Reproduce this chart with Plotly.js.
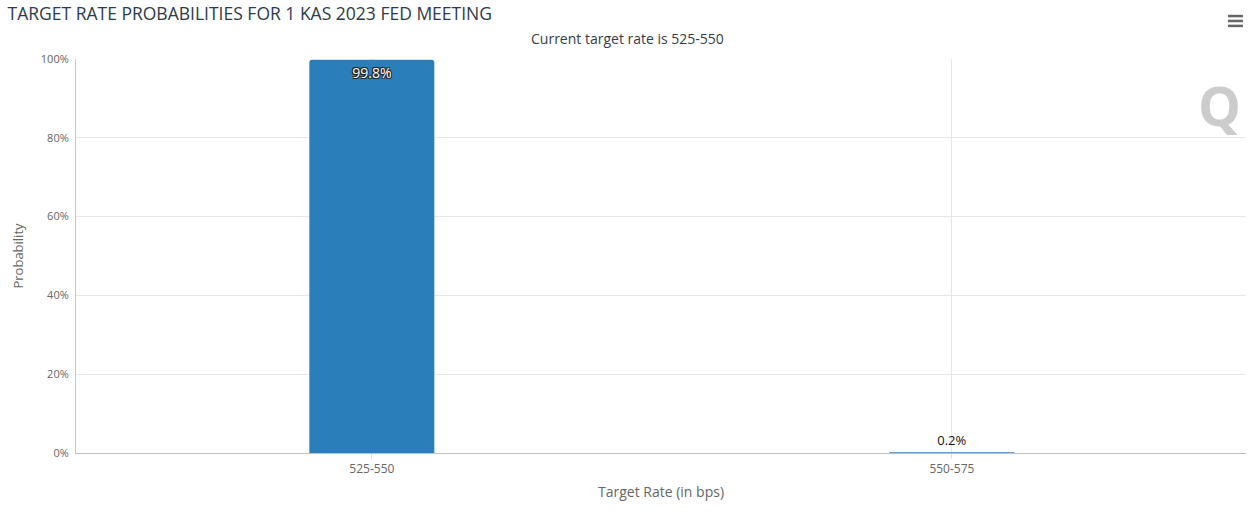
<!DOCTYPE html>
<html>
<head>
<meta charset="utf-8">
<script src="https://cdn.plot.ly/plotly-3.0.1.min.js"></script>
<style>html,body{margin:0;padding:0;background:#fff}#chart{width:1255px;height:512px}</style>
</head>
<body>
<div id="chart"></div>
<script>
const categories = ['525-550', '550-575'];
const probabilities = [99.8, 0.2];
const labels = ['99.8%', '0.2%'];
const yTicks = [0, 20, 40, 60, 80, 100];

const trace = {
  type: 'bar',
  x: categories,
  y: probabilities,
  text: labels,
  textposition: ['inside', 'outside'],
  insidetextanchor: 'end',
  texttemplate: '%{text}',
  cliponaxis: false,
  constraintext: 'none',
  insidetextfont: {family: 'Open Sans, sans-serif', size: 14, color: '#ffffff',
    shadow: '1px 1px 0 #222, -1px -1px 0 #222, 1px -1px 0 #222, -1px 1px 0 #222'},
  outsidetextfont: {family: 'Open Sans, sans-serif', size: 13, color: '#111111'},
  marker: {color: '#2a7fba', cornerradius: 3, line: {width: 0}},
  width: 0.2155,
  hoverinfo: 'x+y'
};

const layout = {
  width: 1255, height: 512,
  margin: {l: 76, r: 9, t: 59, b: 59},
  paper_bgcolor: '#ffffff', plot_bgcolor: '#ffffff',
  font: {family: 'Open Sans, sans-serif', color: '#666666', size: 11},
  showlegend: false,
  title: {text: 'TARGET RATE PROBABILITIES FOR 1 KAS 2023 FED MEETING',
    x: 0.006, xanchor: 'left', y: 0.972, yanchor: 'middle',
    font: {family: 'Open Sans, sans-serif', size: 17.5, color: '#2e3a4c'}},
  xaxis: {
    type: 'category',
    range: [-0.510, 1.507],
    showgrid: true, gridcolor: '#e6e6e6', gridwidth: 1,
    showline: true, linecolor: '#c0c0c0', linewidth: 1,
    ticks: 'outside', ticklen: 5, tickcolor: '#e0e0e0',
    tickfont: {size: 12, color: '#666666'},
    title: {text: 'Target Rate (in bps)', standoff: 10, font: {size: 14, color: '#666666'}},
    fixedrange: true
  },
  yaxis: {
    range: [0, 100],
    tickvals: yTicks,
    ticktext: yTicks.map(v => v + '%'),
    showgrid: true, gridcolor: '#e6e6e6', gridwidth: 1,
    zeroline: false,
    showline: true, linecolor: '#c8c8c8', linewidth: 1,
    ticks: '', ticklabelstandoff: 4,
    tickfont: {size: 11, color: '#666666'},
    title: {text: 'Probability', standoff: 14, font: {size: 13, color: '#666666'}},
    fixedrange: true
  },
  annotations: [
    {text: 'Current target rate is 525-550', xref: 'paper', yref: 'paper',
     x: 0.471, y: 1, yshift: 21, xanchor: 'center', yanchor: 'middle', showarrow: false,
     font: {size: 14, color: '#333d4d'}},
    {text: '<b>Q</b>', xref: 'paper', yref: 'paper', x: 0.9975, y: 0.883,
     xanchor: 'right', yanchor: 'middle', showarrow: false,
     font: {size: 54, color: 'rgba(170,170,170,0.6)', family: 'Open Sans, sans-serif'}}
  ],
  shapes: [
    {type: 'line', xref: 'paper', yref: 'paper', x0: 0.9846, x1: 0.9974, y0: 1.109, y1: 1.109, line: {color: '#666', width: 2.5}},
    {type: 'line', xref: 'paper', yref: 'paper', x0: 0.9846, x1: 0.9974, y0: 1.0965, y1: 1.0965, line: {color: '#666', width: 2.5}},
    {type: 'line', xref: 'paper', yref: 'paper', x0: 0.9846, x1: 0.9974, y0: 1.084, y1: 1.084, line: {color: '#666', width: 2.5}}
  ]
};

Plotly.newPlot('chart', [trace], layout, {displayModeBar: false, staticPlot: true});
</script>
</body>
</html>
